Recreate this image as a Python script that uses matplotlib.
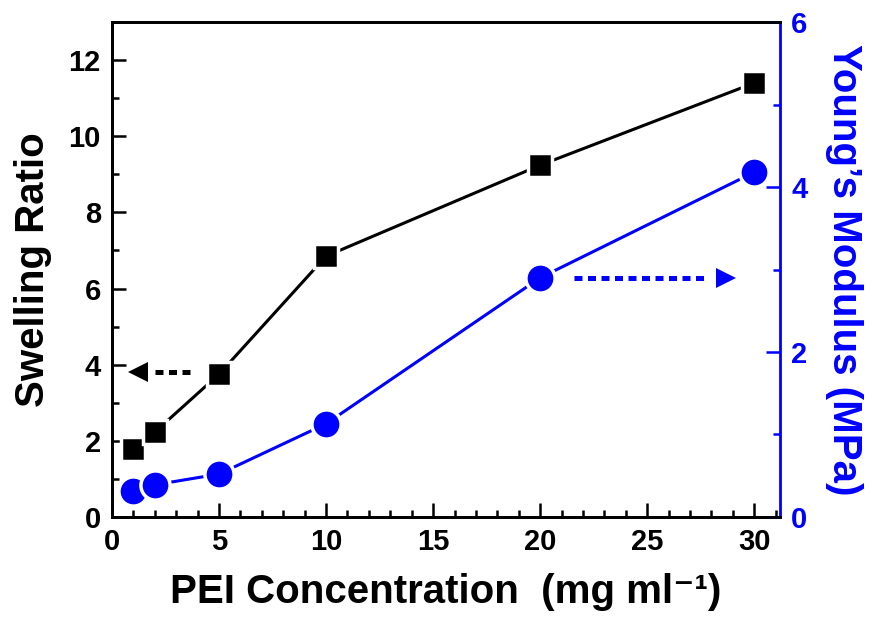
import matplotlib
matplotlib.use("Agg")
import matplotlib.pyplot as plt
from matplotlib.ticker import MultipleLocator

plt.rcParams["font.family"] = ["Liberation Sans", "DejaVu Sans"]
plt.rcParams["font.weight"] = "bold"

pei = [1, 2, 5, 10, 20, 30]
swelling = [1.78, 2.23, 3.75, 6.85, 9.24, 11.4]
modulus = [0.31, 0.39, 0.52, 1.13, 2.9, 4.18]

# dotted guide arrows: shaft start/end, head position, level
black_arrow_x = [3.65, 2.0]
black_arrow_tip = 1.2
black_arrow_y = 3.81
blue_arrow_x = [21.6, 27.9]
blue_arrow_tip = 28.7
blue_arrow_y = 2.9

blue = "#0000ff"

fig = plt.figure(figsize=(8.72, 6.24), dpi=100)
ax = fig.add_axes([0.1284, 0.1715, 0.7661, 0.7932])
ax2 = ax.twinx()

# line drawn with white-edged markers so it stops short of each point
ax.plot(pei, swelling, color="black", linewidth=2.2, zorder=2)
ax.plot(pei, swelling, linestyle="none", marker="s", markersize=17,
        markerfacecolor="black", markeredgecolor="white", markeredgewidth=2.5, zorder=3)
ax2.plot(pei, modulus, color=blue, linewidth=2.2, zorder=2)
ax2.plot(pei, modulus, linestyle="none", marker="o", markersize=21,
         markerfacecolor=blue, markeredgecolor="white", markeredgewidth=2.5, zorder=3)

ax.plot(black_arrow_x, [black_arrow_y] * 2, color="black", lw=3.6,
        linestyle=(0, (1.6, 1.1)), dash_capstyle="butt")
ax.plot(black_arrow_tip, black_arrow_y, marker="<", markersize=15, color="black",
        markeredgewidth=0)
ax2.plot(blue_arrow_x, [blue_arrow_y] * 2, color=blue, lw=3.6,
         linestyle=(0, (1.6, 1.1)), dash_capstyle="butt")
ax2.plot(blue_arrow_tip, blue_arrow_y, marker=">", markersize=15, color=blue,
         markeredgewidth=0)

ax.set_xlim(0, 31.2)
ax.set_ylim(0, 13)
ax2.set_ylim(0, 6)

ax.xaxis.set_major_locator(MultipleLocator(5))
ax.xaxis.set_minor_locator(MultipleLocator(1))
ax.yaxis.set_major_locator(MultipleLocator(2))
ax.yaxis.set_minor_locator(MultipleLocator(1))
ax2.yaxis.set_major_locator(MultipleLocator(2))
ax2.yaxis.set_minor_locator(MultipleLocator(1))

ax.tick_params(axis="both", which="major", direction="in", length=10, width=1.8,
               labelsize=21, pad=8, top=False, right=False)
ax.tick_params(axis="both", which="minor", direction="in", length=5, width=1.8,
               top=False, right=False)
ax2.tick_params(axis="y", which="major", direction="in", length=10, width=1.8,
                labelsize=21, pad=8, colors=blue)
ax2.tick_params(axis="y", which="minor", direction="in", length=5, width=1.8, colors=blue)

for s in ["top", "bottom", "left"]:
    ax.spines[s].set_linewidth(2)
    ax2.spines[s].set_linewidth(2)
ax2.spines["right"].set_linewidth(2)
ax2.spines["right"].set_color(blue)
ax.spines["right"].set_visible(False)

for lab in ax.get_xticklabels() + ax.get_yticklabels() + ax2.get_yticklabels():
    lab.set_fontweight("bold")

ax.set_xlabel("PEI Concentration  (mg ml\u207b\u00b9)", fontsize=29, fontweight="bold", labelpad=12)
ax.set_ylabel("Swelling Ratio", fontsize=29, fontweight="bold", labelpad=12)
ax2.set_ylabel("Young\u2019s Modulus (MPa)", fontsize=29, fontweight="bold", color=blue,
               rotation=270, labelpad=40)

fig.savefig("out.png", dpi=100)
